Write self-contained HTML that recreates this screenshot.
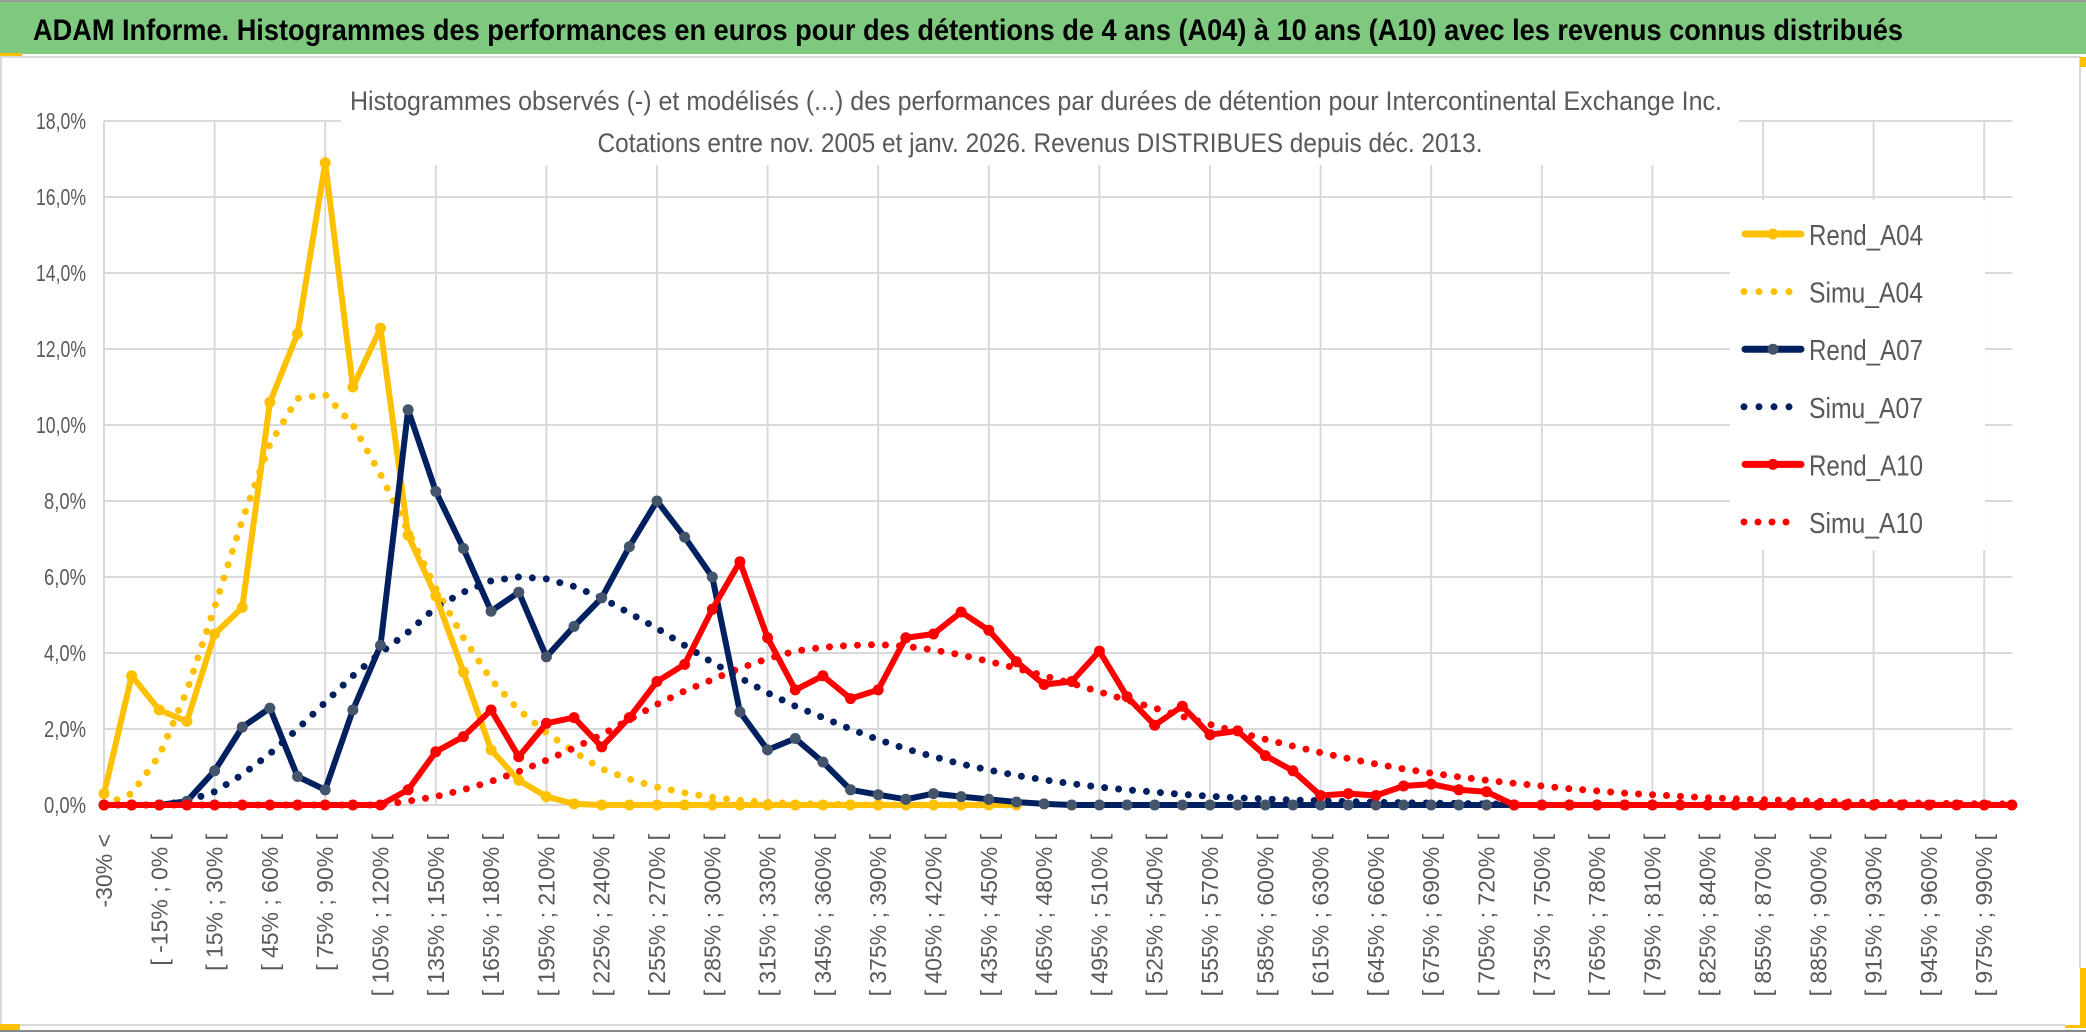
<!DOCTYPE html>
<html><head><meta charset="utf-8"><style>
html,body{margin:0;padding:0;background:#fff;width:2086px;height:1033px;overflow:hidden}
svg{display:block}
text{font-family:"Liberation Sans",sans-serif}
</style></head><body>
<svg id="chart" width="2086" height="1033" viewBox="0 0 2086 1033" xmlns="http://www.w3.org/2000/svg">
<rect x="0" y="0" width="2086" height="1033" fill="#fff"/>
<rect x="0" y="0" width="2086" height="54" fill="#7EC97F"/>
<line x1="0" y1="1" x2="2086" y2="1" stroke="#999" stroke-width="2"/>
<text x="33" y="40" font-size="30" font-weight="bold" fill="#000" textLength="1870" lengthAdjust="spacingAndGlyphs">ADAM Informe. Histogrammes des performances en euros pour des détentions de 4 ans (A04) à 10 ans (A10) avec les revenus connus distribués</text>
<rect x="0" y="53" width="22" height="4" fill="#FFC000"/>
<rect x="1" y="57" width="2079" height="968" fill="#fff" stroke="#d9d9d9" stroke-width="2"/>
<line x1="0" y1="1031" x2="2086" y2="1031" stroke="#888" stroke-width="2"/>
<rect x="0" y="1024" width="20" height="6" fill="#FFC000"/>
<rect x="2080" y="57" width="6" height="10" fill="#FFC000"/>
<rect x="2065" y="968" width="21" height="60" fill="#FFC000"/>
<rect x="2065" y="968" width="15" height="57" fill="#fff"/>
<g id="grid"></g>
<rect x="341" y="60" width="1398" height="105" fill="#fff"/>
<rect x="1730" y="200" width="255" height="350" fill="#fff"/>
<text x="1036" y="110" font-size="27" fill="#595959" text-anchor="middle" textLength="1372" lengthAdjust="spacingAndGlyphs">Histogrammes observés (-) et modélisés (...) des performances par durées de détention pour Intercontinental Exchange Inc.</text>
<text x="1040" y="152" font-size="27" fill="#595959" text-anchor="middle" textLength="885" lengthAdjust="spacingAndGlyphs">Cotations entre nov. 2005 et janv. 2026. Revenus DISTRIBUES depuis déc. 2013.</text>
<g id="yaxis"></g>
<g id="xaxis"></g>
<g id="series"></g>
<g id="legend"></g>
</svg>
<script>
const categories = ["-30% <"];
for (let k = 1; k < 70; k++) { const a = -30 + 15 * (k - 1); categories.push("[ " + a + "% ; " + (a + 15) + "% ["); }
const yTicks = [0, 2, 4, 6, 8, 10, 12, 14, 16, 18];
const yTickLabels = ["0,0%","2,0%","4,0%","6,0%","8,0%","10,0%","12,0%","14,0%","16,0%","18,0%"];
const rendA04 = [0.3,3.4,2.5,2.2,4.5,5.2,10.6,12.4,16.9,11.0,12.55,7.1,5.5,3.5,1.45,0.65,0.22,0.03,0,0,0,0,0,0,0,0,0,0,0,0,0,0,0,0];
const simuA04 = [0,0.3,1.3,3.0,5.2,7.5,9.5,10.7,10.8,10.0,8.7,7.2,5.7,4.4,3.3,2.5,1.9,1.4,0.95,0.68,0.47,0.32,0.2,0.12,0.07,0.04,0.02,0.01,0,0,0,0,0,0];
const rendA07 = [0,0,0,0.1,0.9,2.05,2.55,0.75,0.4,2.5,4.2,10.4,8.25,6.75,5.1,5.6,3.9,4.7,5.45,6.8,8.0,7.05,6.0,2.45,1.45,1.75,1.13,0.4,0.27,0.15,0.3,0.22,0.15,0.08,0.03,0,0,0,0,0,0,0,0,0,0,0,0,0,0,0,0,0,0,0,0,0,0];
const simuA07 = [0,0,0,0.1,0.35,0.8,1.35,2.0,2.7,3.4,4.0,4.55,5.2,5.6,5.9,6.0,5.95,5.75,5.45,5.05,4.65,4.2,3.75,3.35,2.95,2.6,2.3,2.0,1.72,1.48,1.27,1.08,0.92,0.78,0.66,0.56,0.47,0.4,0.34,0.28,0.23,0.19,0.16,0.13,0.11,0.09,0.07,0.06,0.05,0.04,0.03,0.02];
const rendA10 = [0,0,0,0,0,0,0,0,0,0,0,0.4,1.4,1.8,2.5,1.27,2.15,2.3,1.53,2.3,3.25,3.7,5.15,6.4,4.4,3.03,3.4,2.8,3.03,4.4,4.5,5.08,4.6,3.77,3.17,3.25,4.05,2.85,2.1,2.6,1.85,1.95,1.3,0.9,0.25,0.3,0.25,0.5,0.55,0.4,0.35,0,0,0,0,0,0,0,0,0,0,0,0,0,0,0,0,0,0,0];
const simuA10 = [0,0,0,0,0,0,0,0,0,0,0,0.1,0.22,0.4,0.62,0.88,1.18,1.5,1.85,2.25,2.65,3.0,3.3,3.6,3.85,4.05,4.15,4.2,4.22,4.18,4.08,3.95,3.78,3.6,3.4,3.2,2.98,2.76,2.55,2.33,2.12,1.92,1.73,1.55,1.38,1.22,1.08,0.95,0.84,0.74,0.65,0.57,0.5,0.43,0.37,0.31,0.27,0.23,0.19,0.16,0.14,0.12,0.1,0.08,0.07,0.06,0.05,0.04,0.03,0.03];

const NS = "http://www.w3.org/2000/svg";
const X0 = 104, DX = 27.65, Y0 = 805, PY = 38;
function xs(i) { return X0 + i * DX; }
function ys(v) { return Y0 - v * PY; }
function mk(tag, attrs, parent) { const e = document.createElementNS(NS, tag); for (const k in attrs) e.setAttribute(k, attrs[k]); parent.appendChild(e); return e; }

const grid = document.getElementById('grid');
yTicks.forEach(t => {
  const l = mk('line', {x1: X0, x2: xs(69), y1: ys(t), y2: ys(t), stroke: '#d9d9d9', 'stroke-width': 2}, grid);
  
  
});
for (let i = 0; i < categories.length; i += 4) {
  const l = mk('line', {x1: xs(i), x2: xs(i), y1: ys(18), y2: ys(0), stroke: '#d9d9d9', 'stroke-width': 2}, grid);
  
  
}
const ya = document.getElementById('yaxis');
yTicks.forEach((t, k) => {
  const tx = mk('text', {x: 86, y: ys(t) + 8, 'font-size': 23, fill: '#595959', 'text-anchor': 'end', textLength: t >= 10 ? 50 : 42, lengthAdjust: 'spacingAndGlyphs'}, ya);
  tx.textContent = yTickLabels[k];
  
  
});
const xa = document.getElementById('xaxis');
for (let i = 0; i < categories.length; i += 2) {
  const tx = mk('text', {transform: 'translate(' + (xs(i) + 8) + ',834) rotate(-90)', 'font-size': 23, fill: '#595959', 'text-anchor': 'end'}, xa);
  tx.textContent = categories[i];
  
  
}
const ser = document.getElementById('series');
function pts(arr) { return arr.map((v, i) => xs(i).toFixed(1) + ',' + ys(v).toFixed(1)).join(' '); }
function dotted(arr, color, name) {
  const p = mk('polyline', {points: pts(arr), fill: 'none', stroke: color, 'stroke-width': 7, 'stroke-linecap': 'round', 'stroke-dasharray': '0 14'}, ser);
  
  
}
function solid(arr, color, mcolor, name) {
  const g = mk('g', {}, ser);
  
  
  mk('polyline', {points: pts(arr), fill: 'none', stroke: color, 'stroke-width': 6, 'stroke-linejoin': 'round'}, g);
  arr.forEach((v, i) => {
    const c = mk('circle', {cx: xs(i), cy: ys(v), r: 5.5, fill: mcolor}, g);
    
    
  });
}
dotted(simuA04, '#FFC000', 'simu-a04-line');
dotted(simuA07, '#002060', 'simu-a07-line');
dotted(simuA10, '#FF0000', 'simu-a10-line');
solid(rendA04, '#FFC000', '#FFC000', 'rend-a04-line');
solid(rendA07, '#002060', '#44546A', 'rend-a07-line');
solid(rendA10, '#FF0000', '#FF0000', 'rend-a10-line');

const leg = document.getElementById('legend');
const legendNames = ['Rend_A04','Simu_A04','Rend_A07','Simu_A07','Rend_A10','Simu_A10'];
const legendColors = ['#FFC000','#FFC000','#002060','#002060','#FF0000','#FF0000'];
legendNames.forEach((n, k) => {
  const cy = 234 + k * 57.6;
  const g = mk('g', {}, leg);
  
  
  if (k % 2 === 0) {
    mk('line', {x1: 1745, x2: 1801, y1: cy, y2: cy, stroke: legendColors[k], 'stroke-width': 7, 'stroke-linecap': 'round'}, g);
    mk('circle', {cx: 1773, cy: cy, r: 5.5, fill: k === 2 ? '#44546A' : legendColors[k]}, g);
  } else {
    mk('line', {x1: 1744, x2: k === 5 ? 1800 : 1790, y1: cy, y2: cy, stroke: legendColors[k], 'stroke-width': 7, 'stroke-linecap': 'round', 'stroke-dasharray': k === 5 ? '0 14' : '0 15'}, g);
  }
  const tx = mk('text', {x: 1809, y: cy + 11, 'font-size': 29, fill: '#595959', textLength: 114, lengthAdjust: 'spacingAndGlyphs'}, g);
  tx.textContent = n;
});
</script>
</body></html>
